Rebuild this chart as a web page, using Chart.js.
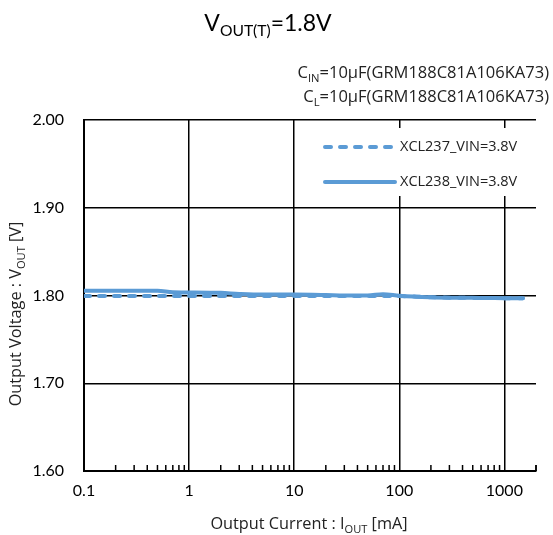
<!DOCTYPE html>
<html>
<head>
<meta charset="utf-8">
<script src="https://cdn.jsdelivr.net/npm/chart.js@4/dist/chart.umd.min.js"></script>
<style>
  body { margin: 0; background: #fff; }
  #wrap { width: 553px; height: 535px; }
</style>
</head>
<body>
<div id="wrap"><canvas id="lineReg"></canvas></div>
<script>
// output current [mA] and output voltage [V]
const currents = [0.1, 0.2, 0.3, 0.5, 0.7, 1, 2, 3, 5, 7, 10, 20, 30, 50, 70, 100, 200, 300, 500, 700, 1000, 1500];
const vout237 = [1.7995, 1.7995, 1.7995, 1.7995, 1.7995, 1.7995, 1.7995, 1.7995, 1.7995, 1.7995, 1.7995, 1.7995, 1.7995, 1.7995, 1.7995, 1.7993, 1.798, 1.7975, 1.7973, 1.7972, 1.797, 1.797];
const vout238 = [1.8055, 1.8055, 1.8055, 1.8055, 1.8037, 1.8035, 1.803, 1.8018, 1.801, 1.801, 1.801, 1.8005, 1.8, 1.8, 1.8015, 1.7998, 1.798, 1.7975, 1.7973, 1.7972, 1.797, 1.797];
const yTicks = [1.6, 1.7, 1.8, 1.9, 2.0];
const xLabels = [0.1, 1, 10, 100, 1000];
const seriesNames = ['XCL237_VIN=3.8V', 'XCL238_VIN=3.8V'];

const FONT = 'Lato, "Open Sans", sans-serif';
const FONT2 = '"Open Sans", Lato, sans-serif';
const blue = '#5B9BD5';

// every 1..9 step of each decade, for the minor tick marks
const xAll = [];
for (let d = 0.1; d < 2000; d *= 10) {
  for (let k = 1; k <= 9; k++) {
    const v = +(d * k).toPrecision(3);
    if (v <= 2000) xAll.push(v);
  }
}
xAll.push(2000);
const isDecade = v => xLabels.some(l => Math.abs(l - v) < 1e-9);

function richText(ctx, parts, x, y, align, size, font) {
  // parts: [text, sub?]
  let w = 0;
  parts.forEach(p => {
    ctx.font = (p[1] ? size * 0.68 : size) + 'px ' + font;
    w += ctx.measureText(p[0]).width;
  });
  let cx = align === 'right' ? x - w : align === 'center' ? x - w / 2 : x;
  parts.forEach(p => {
    ctx.font = (p[1] ? size * 0.68 : size) + 'px ' + font;
    ctx.fillText(p[0], cx, p[1] ? y + size * 0.22 : y);
    cx += ctx.measureText(p[0]).width;
  });
}

const decorPlugin = {
  id: 'decor',
  afterDatasetsDraw(chart) {
    const ctx = chart.ctx;
    const area = chart.chartArea;
    const xs = chart.scales.x;
    ctx.save();
    // minor ticks pointing up from the bottom axis
    ctx.strokeStyle = '#000';
    ctx.lineWidth = 1.5;
    xAll.forEach(v => {
      if (isDecade(v)) return;
      const px = xs.getPixelForValue(v);
      ctx.beginPath();
      ctx.moveTo(px, area.bottom);
      ctx.lineTo(px, area.bottom - 6);
      ctx.stroke();
    });

    // legend box inside the plot
    const lx = area.left + 226, ly = area.top + 8;
    ctx.fillStyle = '#fff';
    ctx.fillRect(lx, ly, 218, 68);
    chart.data.datasets.forEach((ds, i) => {
      const yy = area.top + 27 + i * 35;
      ctx.strokeStyle = ds.borderColor;
      ctx.lineWidth = ds.borderWidth;
      ctx.lineCap = 'round';
      ctx.setLineDash(ds.borderDash || []);
      ctx.beginPath();
      ctx.moveTo(lx + 15, yy);
      ctx.lineTo(lx + 85, yy);
      ctx.stroke();
      ctx.setLineDash([]);
      ctx.fillStyle = '#222';
      ctx.font = '14.5px ' + FONT2;
      ctx.textBaseline = 'middle';
      ctx.fillText(ds.label, lx + 90, yy);
    });
    ctx.restore();
  },
  afterDraw(chart) {
    const ctx = chart.ctx;
    ctx.save();
    ctx.fillStyle = '#000';
    ctx.textBaseline = 'alphabetic';
    richText(ctx, [['V'], ['OUT(T)', true], ['=1.8V']], 268, 31, 'center', 23, FONT);
    ctx.fillStyle = '#222';
    richText(ctx, [['C'], ['IN', true], ['=10\u00b5F(GRM188C81A106KA73)']], 549, 78, 'right', 16.5, FONT2);
    richText(ctx, [['C'], ['L', true], ['=10\u00b5F(GRM188C81A106KA73)']], 549, 102, 'right', 16.5, FONT2);
    richText(ctx, [['Output Current : I'], ['OUT', true], [' [mA]']], 309, 529, 'center', 16.3, FONT2);
    ctx.translate(21, 314);
    ctx.rotate(-Math.PI / 2);
    richText(ctx, [['Output Voltage : V'], ['OUT', true], [' [V]']], 0, 0, 'center', 16.3, FONT2);
    ctx.restore();
  }
};

const ctx = document.getElementById('lineReg').getContext('2d');
const lineReg = new Chart(ctx, {
  type: 'line',
  data: {
    datasets: [
      {
        label: seriesNames[0],
        data: currents.map((c, i) => ({ x: c, y: vout237[i] })),
        borderColor: blue,
        borderWidth: 4,
        borderDash: [6, 9],
        borderCapStyle: 'round',
        pointRadius: 0,
        cubicInterpolationMode: 'monotone'
      },
      {
        label: seriesNames[1],
        data: currents.map((c, i) => ({ x: c, y: vout238[i] })),
        borderColor: blue,
        borderWidth: 4,
        borderCapStyle: 'round',
        pointRadius: 0,
        cubicInterpolationMode: 'monotone'
      }
    ]
  },
  options: {
    responsive: true,
    maintainAspectRatio: false,
    animation: false,
    layout: { padding: { top: 120, right: 17, left: 0, bottom: 0 } },
    plugins: { legend: { display: false }, tooltip: { enabled: false } },
    scales: {
      x: {
        type: 'logarithmic',
        min: 0.1,
        max: 2000,
        afterBuildTicks: scale => { scale.ticks = xAll.map(v => ({ value: v })); },
        afterFit: scale => { scale.height = 64; },
        ticks: {
          autoSkip: false,
          maxRotation: 0,
          padding: 10,
          color: '#000',
          font: { family: FONT, size: 16 },
          callback: v => isDecade(v) ? String(v) : ''
        },
        grid: {
          drawTicks: false,
          lineWidth: 1.5,
          color: c => (c.tick && isDecade(c.tick.value)) ? '#000' : 'rgba(0,0,0,0)'
        },
        border: { display: true, color: '#000', width: 2 }
      },
      y: {
        min: 1.6,
        max: 2.0,
        afterBuildTicks: scale => { scale.ticks = yTicks.map(v => ({ value: v })); },
        afterFit: scale => { scale.width = 84; },
        ticks: {
          padding: 20,
          color: '#000',
          font: { family: FONT, size: 16 },
          callback: v => v.toFixed(2)
        },
        grid: { drawTicks: false, lineWidth: 1.5, color: '#000' },
        border: { display: true, color: '#000', width: 2 }
      }
    }
  },
  plugins: [decorPlugin]
});
</script>
</body>
</html>
